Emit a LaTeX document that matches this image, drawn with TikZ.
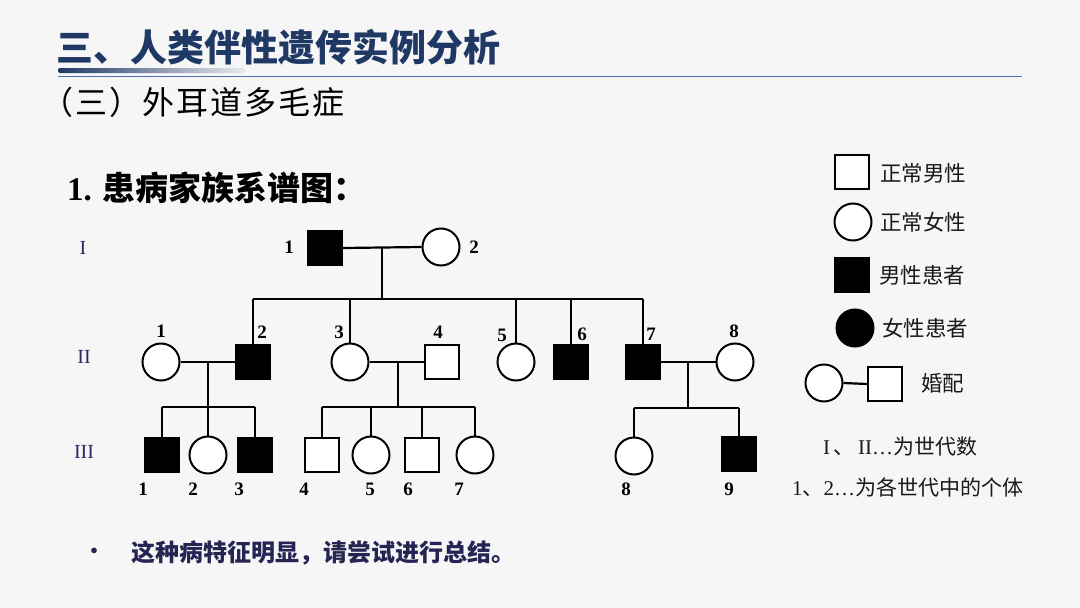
\documentclass[tikz,border=0pt]{standalone}
\usepackage{fontspec}
\setmainfont{Noto Sans CJK SC}
\newfontfamily\tnr{Liberation Serif}
\newfontfamily\subfont[LetterSpace=6]{Noto Sans CJK SC}
\definecolor{navy}{RGB}{31,56,100}
\definecolor{deepnavy}{RGB}{38,36,82}
\definecolor{romancol}{RGB}{40,40,100}
\definecolor{rulecol}{RGB}{80,110,180}
\definecolor{bgcol}{RGB}{246,246,247}
\tikzset{
  sq/.style={rectangle, draw=black, line width=2pt, minimum size=34pt, inner sep=0pt, fill=white},
  ci/.style={circle, draw=black, line width=2pt, minimum size=37pt, inner sep=0pt, fill=white},
  aff/.style={fill=black},
  link/.style={draw=black, line width=2.2pt},
  num/.style={font=\tnr\bfseries\fontsize{19}{19}\selectfont, inner sep=0pt},
  rom/.style={font=\tnr\fontsize{20}{20}\selectfont, text=romancol, inner sep=0pt},
  legtxt/.style={font=\fontsize{21.5}{21.5}\selectfont, anchor=west, inner sep=0pt, text=black!90},
}
\begin{document}
\begin{tikzpicture}[x=1pt,y=-1pt]
\useasboundingbox (0,0) rectangle (1080,608);
\fill[bgcol] (0,0) rectangle (1080,608);

% title
\node[anchor=west, inner sep=0pt, text=navy, font=\bfseries\fontsize{37}{37}\selectfont] (title) at (56,47) {三、人类伴性遗传实例分析};
\shade[left color=navy, right color=navy!10, rounded corners=2pt] (58,68) rectangle (245,73);
\draw[rulecol, line width=1pt] (58,76) -- (1022,76);
\node[anchor=west, inner sep=0pt, font=\subfont\fontsize{32}{32}\selectfont] (sub) at (41,102) {（三）外耳道多毛症};
\node[anchor=west, inner sep=0pt, font=\bfseries\fontsize{33}{33}\selectfont] (head) at (67,188) {{\tnr 1.} 患病家族系谱图：};

% generation labels
\node[rom] (gI) at (83,248) {I};
\node[rom] (gII) at (84,357) {II};
\node[rom] (gIII) at (84,452) {III};

% generation I
\node[sq, aff] (i1) at (325,248) {};
\node[ci] (i2) at (441,247) {};
\node[num] at (289,247) {1};
\node[num] at (474,247) {2};

% generation II
\node[ci] (ii1) at (161,362) {};
\node[sq, aff] (ii2) at (253,362) {};
\node[ci] (ii3) at (350,362) {};
\node[sq] (ii4) at (442,362) {};
\node[ci] (ii5) at (516,362) {};
\node[sq, aff] (ii6) at (571,362) {};
\node[sq, aff] (ii7) at (643,362) {};
\node[ci] (ii8) at (735,362) {};
\node[num] at (161,331) {1};
\node[num] at (262,332) {2};
\node[num] at (339,332) {3};
\node[num] at (438,332) {4};
\node[num] at (502,335) {5};
\node[num] at (582,334) {6};
\node[num] at (651,334) {7};
\node[num] at (734,331) {8};

% generation III
\node[sq, aff] (iii1) at (162,455) {};
\node[ci] (iii2) at (208,455) {};
\node[sq, aff] (iii3) at (255,455) {};
\node[sq] (iii4) at (322,455) {};
\node[ci] (iii5) at (371,455) {};
\node[sq] (iii6) at (422,455) {};
\node[ci] (iii7) at (475,455) {};
\node[ci] (iii8) at (634,456) {};
\node[sq, aff] (iii9) at (739,454) {};
\node[num] at (143,489) {1};
\node[num] at (193,489) {2};
\node[num] at (239,489) {3};
\node[num] at (304,489) {4};
\node[num] at (370,489) {5};
\node[num] at (408,489) {6};
\node[num] at (459,489) {7};
\node[num] at (626,489) {8};
\node[num] at (729,489) {9};

% connectors generation I -> II
\coordinate (m1) at (382,248);
\coordinate (s1) at (382,299);
\draw[link] (i1.east) -- (i2.west);
\draw[link] (m1) -- (s1);
\draw[link] (ii2.north |- s1) -- (ii7.north |- s1);
\foreach \c in {ii2,ii3,ii5,ii6,ii7} \draw[link] (\c.north |- s1) -- (\c.north);

% II-1 x II-2
\coordinate (m2) at (208,362);
\coordinate (s2) at (208,407);
\draw[link] (ii1.east) -- (ii2.west);
\draw[link] (m2) -- (s2);
\draw[link] (iii1.north |- s2) -- (iii3.north |- s2);
\foreach \c in {iii1,iii2,iii3} \draw[link] (\c.north |- s2) -- (\c.north);

% II-3 x II-4
\coordinate (m3) at (398,362);
\coordinate (s3) at (398,407);
\draw[link] (ii3.east) -- (ii4.west);
\draw[link] (m3) -- (s3);
\draw[link] (iii4.north |- s3) -- (iii7.north |- s3);
\foreach \c in {iii4,iii5,iii6,iii7} \draw[link] (\c.north |- s3) -- (\c.north);

% II-7 x II-8
\coordinate (m4) at (688,362);
\coordinate (s4) at (688,408);
\draw[link] (ii7.east) -- (ii8.west);
\draw[link] (m4) -- (s4);
\draw[link] (iii8.north |- s4) -- (iii9.north |- s4);
\foreach \c in {iii8,iii9} \draw[link] (\c.north |- s4) -- (\c.north);

% legend
\node[sq] (lsq) at (852,172) {};
\node[ci] (lci) at (853,222) {};
\node[sq, aff] (lsqf) at (852,275) {};
\node[ci, aff] (lcif) at (855,328) {};
\node[ci] (lmc) at (824,383) {};
\node[sq] (lms) at (885,384) {};
\draw[link] (lmc.east) -- (lms.west);
\node[legtxt] (t1) at (880,173) {正常男性};
\node[legtxt] (t2) at (880,222) {正常女性};
\node[legtxt] (t3) at (879,275) {男性患者};
\node[legtxt] (t4) at (882,328) {女性患者};
\node[legtxt] (t5) at (921,383) {婚配};
\node[legtxt, font=\fontsize{21}{21}\selectfont] (t6) at (823,447) {{\tnr I}\,、\,{\tnr II}{\tnr\dots}为世代数};
\node[legtxt, font=\fontsize{21}{21}\selectfont] (t7) at (792,487) {{\tnr 1}、{\tnr 2\dots}为各世代中的个体};

% bottom note
\node[inner sep=0pt, text=deepnavy, font=\bfseries\fontsize{20}{20}\selectfont] (bul) at (94,553) {•};
\node[anchor=west, inner sep=0pt, text=deepnavy, font=\bfseries\fontsize{24}{24}\selectfont] (note) at (131,553) {这种病特征明显，请尝试进行总结。};
\end{tikzpicture}
\end{document}
